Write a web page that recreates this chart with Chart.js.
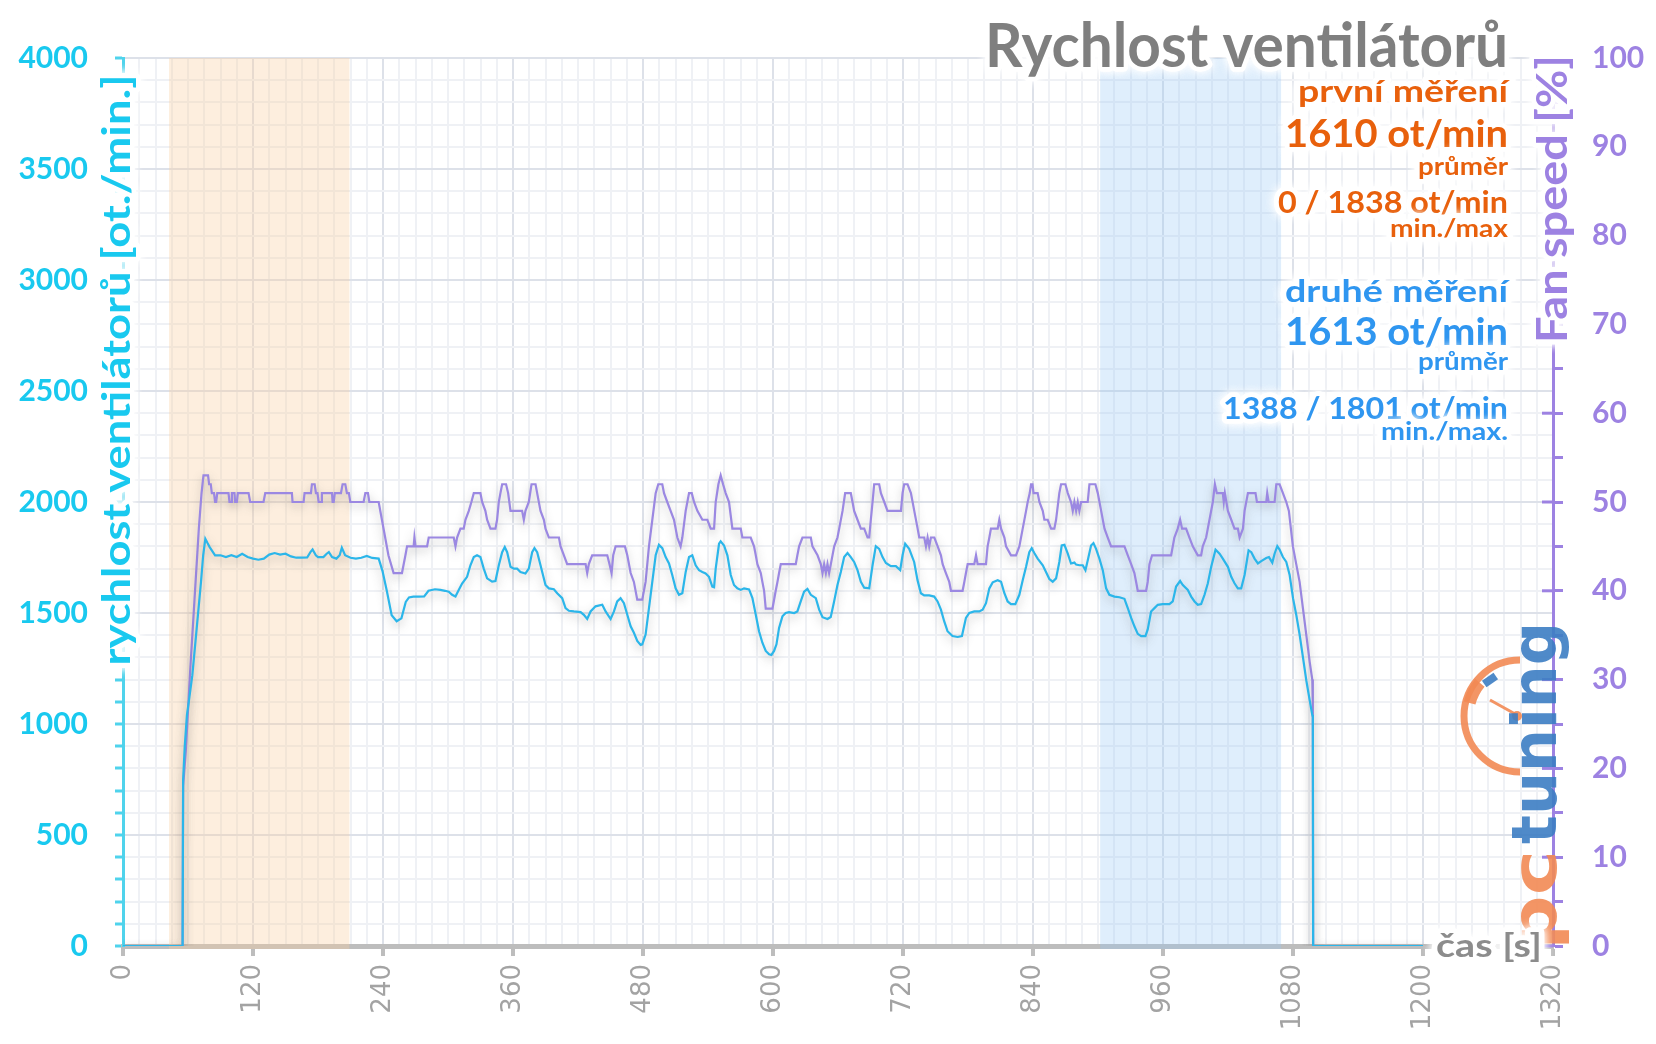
<!DOCTYPE html>
<html>
<head>
<meta charset="utf-8">
<title>Rychlost ventilátorů</title>
<script src="https://cdn.jsdelivr.net/npm/chart.js@4.4.1/dist/chart.umd.min.js"></script>
<style>
  html, body { margin: 0; padding: 0; background: #fff; }
  canvas { display: block; }
</style>
</head>
<body>
<canvas id="chart" width="1656" height="1044"></canvas>
<script>
// fan rpm over time [s, ot./min]
const rpmSamples = [
  [0,0],[55,0],[55.5,750],[57,900],[59,1040],[61,1110],[64,1220],[68,1430],[72,1640],[74,1760],[76,1834],[78,1815],
  [80,1797],[85,1760],[90,1760],[95,1752],[100,1760],[105,1752],[110,1767],[115,1752],[120,1745],[125,1740],
  [130,1745],[135,1763],[140,1770],[145,1763],[150,1767],[155,1755],[160,1749],[165,1749],[170,1750],[173,1774],
  [175,1786],[178,1760],[180,1752],[185,1752],[188,1767],[190,1774],[193,1752],[197,1745],[200,1760],[202,1794],
  [205,1760],[210,1749],[215,1745],[220,1749],[225,1757],[230,1748],[236,1745],[239.5,1690],[243.5,1600],
  [248,1490],[252.6,1463],[257,1476],[261,1550],[264,1570],[268,1574],[273,1574],[278,1575],[282,1600],[288,1607],
  [293,1604],[297.3,1600],[300.7,1596],[303.8,1582],[306.9,1574],[309.9,1604],[313,1633],[317.6,1663],[320.7,1715],
  [323.8,1752],[326.8,1760],[329.9,1752],[333,1700],[336.1,1656],[340.7,1641],[343.8,1644],[346.9,1715],[350,1774],
  [352.4,1797],[354.6,1774],[357.7,1708],[360.7,1700],[363.8,1700],[366.9,1685],[371.5,1678],[374.6,1700],
  [377.7,1774],[379.8,1792],[382.3,1774],[385.4,1715],[390,1626],[393.1,1611],[397.7,1607],[400.8,1589],
  [405.4,1567],[408.5,1522],[411.6,1510],[416.2,1507],[422.4,1504],[425.4,1492],[428.5,1473],[431.6,1507],
  [436.2,1530],[442.4,1537],[445.5,1507],[450.1,1473],[453.2,1507],[456.2,1552],[459.3,1567],[462.4,1544],
  [465.5,1492],[468.6,1440],[471.6,1411],[474.7,1374],[477.8,1356],[479.3,1359],[482.4,1403],[485.5,1522],
  [488.6,1641],[491.7,1760],[494.7,1807],[497.8,1792],[500.9,1752],[504,1723],[507,1671],[510.1,1611],[513.2,1582],
  [516.3,1589],[519.4,1685],[522.5,1752],[525.5,1760],[528.6,1715],[531.7,1693],[534.8,1685],[537.8,1678],
  [540.9,1663],[544,1619],[545.6,1616],[547.1,1700],[550.2,1812],[551.7,1823],[554.8,1804],[557.9,1760],[561,1671],
  [564,1626],[567.1,1611],[570.2,1604],[573.3,1611],[577.9,1606],[581,1567],[584.1,1492],[587.1,1418],[590.2,1366],
  [593.3,1329],[596.4,1314],[598.5,1311],[601,1329],[603.2,1359],[605.6,1433],[608.7,1485],[611.7,1500],
  [614.8,1504],[619.5,1500],[622.5,1507],[625.6,1552],[628.7,1596],[631.8,1608],[634.9,1582],[639.5,1567],
  [642.6,1515],[645.7,1481],[650.3,1473],[653.3,1482],[656.4,1552],[659.5,1626],[662.6,1685],[665.7,1752],
  [668.8,1770],[671.8,1752],[674.9,1730],[678,1693],[681.1,1641],[684.2,1614],[688.8,1611],[691.9,1715],
  [694.9,1801],[698,1789],[701.1,1752],[704.2,1725],[708.8,1711],[713.4,1711],[717.4,1693],[719.6,1760],[722,1812],
  [725.7,1789],[730.3,1730],[733.4,1648],[736.5,1589],[739.5,1579],[744.2,1579],[748.8,1574],[751.9,1552],
  [755,1515],[758,1463],[761.1,1418],[765.7,1396],[770.4,1392],[774.4,1396],[778.1,1478],[781.2,1500],
  [785.8,1507],[790.4,1507],[793.5,1515],[796.6,1544],[799.7,1611],[802.8,1638],[807.4,1648],[810.5,1641],
  [813.6,1589],[816.6,1552],[819.7,1540],[823.7,1540],[827.4,1582],[830.5,1648],[833.6,1708],[836.6,1774],
  [838.8,1792],[841.2,1770],[844.3,1745],[849,1715],[852,1685],[855.1,1653],[858.2,1641],[861.3,1656],[864.3,1730],
  [866.5,1804],[869,1807],[872.1,1767],[875.1,1723],[878.2,1727],[879.8,1718],[882.8,1715],[885.9,1715],
  [888.4,1693],[890.5,1737],[893.6,1804],[895.8,1815],[898.2,1789],[901.3,1745],[904.4,1693],[907.5,1611],
  [910.5,1582],[915.2,1574],[919.8,1571],[924.4,1564],[927.5,1522],[930.6,1478],[933.6,1440],[936.7,1406],
  [939.8,1396],[943.8,1396],[945.9,1426],[949,1507],[952.1,1522],[955.2,1537],[959.8,1540],[965.9,1540],
  [969,1552],[972.1,1619],[975.8,1644],[978.3,1626],[982.9,1604],[986,1574],[989.1,1552],[992.1,1537],
  [995.2,1540],[998.3,1582],[1001.4,1634],[1004.5,1708],[1008.5,1785],[1012.2,1767],[1015.2,1745],[1019.9,1708],
  [1023,1663],[1026,1634],[1029.1,1611],[1032.2,1611],[1035.3,1671],[1039,1782],[1041.5,1774],[1044.5,1745],
  [1047.6,1723],[1050.7,1734],[1055.3,1748],[1057.8,1752],[1060.9,1727],[1063,1767],[1065.5,1801],[1067.6,1786],
  [1070.7,1752],[1073.8,1730],[1076.9,1671],[1080,1567],[1083,1492],[1086.1,1403],[1089.2,1300],[1092.3,1196],
  [1095.4,1107],[1097.8,1040],[1098.3,1030],[1098.6,0],[1200,0]
];

// fan duty over time [s, %]
const pctSamples = [
  [0,0],[55,0],[55.5,18],[58,22],[62,31],[66,39],[70,47],[72.5,51],[74.3,53],[78.5,53],[79.5,52],[81,52],[82,51],
  [84,51],[85,50],[86,50],[87,51],[97.4,51],[98.3,50],[99.9,50],[100.5,51],[102.9,51],[103.5,50],[105.1,50],
  [106,51],[115.9,51],[117.4,50],[129.7,50],[131.3,51],[155.9,51],[156.5,50],[166.7,50],[167.6,51],[173.5,51],
  [174.4,52],[176.9,52],[178.1,51],[179.5,51],[180.6,50],[183,50],[183.6,51],[192.9,51],[193.5,50],[194.5,50],
  [195.5,51],[201.2,51],[202.7,52],[205.2,52],[206.7,51],[208.5,51],[209.8,50],[222.1,50],[223.7,51],[226.1,51],
  [227.4,50],[236,50],[239,48],[242,46],[245,44],[249.8,42],[257.5,42],[260.7,44],[262.2,45],[268.3,45],[269,46],
  [270,45],[280.7,45],[282.2,46],[305.3,46],[306.9,45],[308.4,46],[311.5,47],[314.5,47],[316.1,48],[319.2,49],
  [321.6,50],[323.8,51],[329.9,51],[331.5,50],[334.5,49],[336.1,48],[339.2,47],[343.8,47],[345.3,48],[346.9,50],
  [348.4,51],[350,52],[353.6,52],[355.5,51],[357.7,49],[368.4,49],[370,48],[371.5,49],[374.6,50],[377.1,52],
  [380.8,52],[382.3,51],[385.4,49],[388.5,48],[390,47],[393.1,46],[402.4,46],[403.9,45],[407,44],[410,43],[427,43],
  [428.5,42],[430,43],[433.1,44],[447,44],[449.1,43],[451,42],[452.5,44],[454.7,45],[463.3,45],[465.5,44],
  [468.6,42],[471.6,41],[474.7,39],[479.3,39],[482.4,41],[485.5,45],[488.6,48],[491.7,51],[494.1,52],[497.8,52],
  [499.4,51],[502.4,50],[505.5,49],[508.6,48],[511.7,46],[514.7,45],[516.3,46],[519.4,49],[522.5,51],[525,51],
  [527.1,50],[530.2,49],[534.8,48],[539.4,48],[542.5,47],[545.6,47],[547.1,50],[549.6,52],[551.7,53],[553.9,52],
  [556.3,51],[559.4,50],[562.5,47],[565.6,47],[568.7,47],[570.2,47],[571.7,46],[579.4,46],[582.5,45],[584.1,44],
  [585.6,43],[588.7,42],[590.2,41],[591.8,40],[593.3,38],[599.5,38],[601,39],[602.5,40],[604.1,41],[605.6,42],
  [607.2,43],[621,43],[622.5,44],[624.1,45],[627.2,46],[634.9,46],[636.4,45],[641.1,44],[644.1,43],[645.7,42],
  [647.2,43],[648.8,42],[650.3,43],[651.8,42],[653.4,43],[656.5,45],[659.5,46],[661.1,47],[664.2,49],[666.6,51],
  [671.8,51],[673.4,50],[674.9,49],[678,48],[681.1,47],[684.2,47],[687.3,46],[688.8,46],[690.3,48],[691.9,50],
  [693.4,52],[698,52],[699.6,51],[702.7,50],[705.7,49],[718.1,49],[719.6,51],[721.1,52],[724.2,52],[727.3,51],
  [730.4,49],[733.5,47],[735,46],[739.6,46],[741.2,45],[742.7,46],[744.2,45],[745.8,46],[748.9,46],[752,45],
  [755,44],[756.6,43],[759.6,42],[762.7,41],[764.3,40],[775,40],[776.6,41],[778.1,42],[779.7,43],[785.8,43],
  [787.4,44],[788.9,43],[796.6,43],[798.1,45],[799.7,46],[801.2,47],[807.4,47],[808.9,48],[810.5,47],[813.6,46],
  [815.1,45],[819.7,44],[824.3,44],[827.4,45],[830.5,47],[833.6,49],[835.1,50],[837,51],[838.2,52],[839.5,52],
  [840.5,51],[844.3,51],[845.9,50],[849,49],[850.5,48],[853.6,48],[856.7,47],[859.7,47],[861.3,48],[864.3,51],
  [865.9,52],[869.9,52],[872.1,51],[875.1,50],[876.7,49],[878.2,50],[879.8,49],[881.3,50],[882.8,49],[884.4,50],
  [890.5,50],[892.1,52],[897.6,52],[899.8,51],[902.9,49],[906,47],[909,46],[912.1,45],[924.4,45],[927.5,44],
  [930.6,43],[933.6,42],[935.2,41],[936.7,40],[944.4,40],[945.9,41],[947.5,43],[949.9,44],[967.5,44],[970.5,46],
  [973.6,47],[975.8,48],[977.6,47],[981.3,47],[984.4,46],[987.5,45],[992.1,44],[995.2,44],[996.7,45],[999.8,46],
  [1002.9,48],[1006,50],[1007.9,52],[1009.7,51],[1015.2,51],[1016.1,50],[1017.1,51],[1019.9,49],[1023,48],
  [1026,47],[1029.1,47],[1030.7,46],[1033.8,47],[1035.3,49],[1038.4,51],[1045.4,51],[1046.7,50],[1055.3,50],
  [1056.2,51],[1057.5,50],[1063,50],[1064.6,52],[1067.6,52],[1070.7,51],[1073.8,50],[1076.2,49],[1079.9,45],
  [1083,43],[1086.1,41],[1089.2,38],[1092.3,35],[1095.4,32],[1097.8,30],[1098.3,27],[1098.6,0],[1200,0]
];

const xTicks = [0, 120, 240, 360, 480, 600, 720, 840, 960, 1080, 1200, 1320];
const rpmTicks = [0, 500, 1000, 1500, 2000, 2500, 3000, 3500, 4000];
const pctTicks = [0, 10, 20, 30, 40, 50, 60, 70, 80, 90, 100];
const bandFirst = [42.5, 209];   // první měření
const bandSecond = [902, 1069];  // druhé měření

const cyan = '#19c9ef';
const purple = '#9d82e2';
const orange = '#e8600c';
const blue = '#2f96f0';
const gridMajor = '#dde1e9';
const gridMinor = '#eff1f5';

function range(a, b, step) {
  const out = [];
  for (let v = a; v <= b + 1e-9; v += step) out.push(v);
  return out;
}

// text with a white glow, stretched to the width it has in the original
function haloText(ctx, text, x, y, font, color, align, width, rot) {
  ctx.save();
  ctx.translate(x, y);
  if (rot) ctx.rotate(rot);
  ctx.font = font;
  ctx.textAlign = align;
  ctx.textBaseline = 'alphabetic';
  if (width) ctx.scale(width / ctx.measureText(text).width, 1);
  ctx.lineJoin = 'round';
  ctx.strokeStyle = 'rgba(255,255,255,0.95)';
  ctx.shadowColor = '#fff';
  ctx.shadowBlur = 10;
  ctx.lineWidth = 9;
  ctx.strokeText(text, 0, 0);
  ctx.strokeText(text, 0, 0);
  ctx.shadowBlur = 0;
  ctx.fillStyle = color;
  ctx.fillText(text, 0, 0);
  ctx.restore();
}

const bands = {
  id: 'bands',
  beforeDatasetsDraw(chart) {
    const { ctx, chartArea, scales: { x } } = chart;
    ctx.save();
    ctx.fillStyle = 'rgba(250,205,160,0.35)';
    ctx.fillRect(x.getPixelForValue(bandFirst[0]), chartArea.top,
      x.getPixelForValue(bandFirst[1]) - x.getPixelForValue(bandFirst[0]), chartArea.bottom - chartArea.top + 3);
    ctx.fillStyle = 'rgba(150,200,245,0.3)';
    ctx.fillRect(x.getPixelForValue(bandSecond[0]), chartArea.top,
      x.getPixelForValue(bandSecond[1]) - x.getPixelForValue(bandSecond[0]), chartArea.bottom - chartArea.top + 3);
    ctx.restore();
  }
};

const lineShadow = {
  id: 'lineShadow',
  beforeDatasetDraw(chart) {
    const ctx = chart.ctx;
    ctx.save();
    ctx.shadowColor = 'rgba(70,70,70,0.35)';
    ctx.shadowBlur = 10;
    ctx.shadowOffsetY = 4;
  },
  afterDatasetDraw(chart) {
    chart.ctx.restore();
  }
};

const axisMarks = {
  id: 'axisMarks',
  afterDatasetsDraw(chart) {
    const { ctx, scales: { y2 } } = chart;
    ctx.save();
    ctx.strokeStyle = purple;
    ctx.lineWidth = 3;
    pctTicks.forEach(v => {
      const py = y2.getPixelForValue(v);
      ctx.beginPath();
      ctx.moveTo(y2.left - 11, py);
      ctx.lineTo(y2.left, py);
      ctx.stroke();
    });
    ctx.restore();
  }
};

const logo = {
  id: 'logo',
  afterDatasetsDraw(chart) {
    const ctx = chart.ctx;
    ctx.save();
    ctx.globalAlpha = 0.9;
    // gauge
    ctx.strokeStyle = '#f28a54';
    ctx.lineWidth = 7;
    ctx.beginPath();
    ctx.arc(1520, 716, 56, Math.PI / 2, Math.PI * 1.5);
    ctx.stroke();
    ctx.lineWidth = 12;
    ctx.beginPath();
    ctx.arc(1520, 716, 52, Math.PI * 1.08, Math.PI * 1.22);
    ctx.stroke();
    ctx.lineWidth = 3;
    ctx.beginPath();
    ctx.moveTo(1490, 700);
    ctx.lineTo(1517, 715);
    ctx.stroke();
    ctx.fillStyle = '#f28a54';
    ctx.beginPath();
    ctx.arc(1517, 716, 5, 0, Math.PI * 2);
    ctx.fill();
    ctx.fillStyle = '#3c7dc3';
    ctx.save();
    ctx.translate(1490, 680);
    ctx.rotate(-0.6);
    ctx.fillRect(-7, -4, 14, 8);
    ctx.restore();
    // wordmark
    ctx.translate(1556, 950);
    ctx.rotate(-Math.PI / 2);
    ctx.font = 'bold 62px "DejaVu Sans"';
    ctx.textAlign = 'left';
    ctx.save();
    ctx.scale(100 / ctx.measureText('pc').width, 1);
    ctx.fillStyle = '#f28a54';
    ctx.fillText('pc', 0, 0);
    ctx.restore();
    ctx.translate(106, 0);
    ctx.scale(222 / ctx.measureText('tuning').width, 1);
    ctx.fillStyle = '#3c7dc3';
    ctx.fillText('tuning', 0, 0);
    ctx.restore();
  }
};

const texts = {
  id: 'texts',
  afterDraw(chart) {
    const ctx = chart.ctx;
    const R = 1508;
    haloText(ctx, 'Rychlost ventilátorů', R, 67, 'bold 62px Lato', '#7f7f7f', 'right', 523);
    haloText(ctx, 'první měření', R, 102, 'bold 30px Lato', orange, 'right', 210);
    haloText(ctx, '1610 ot/min', R, 147, 'bold 38px Lato', orange, 'right', 223);
    haloText(ctx, 'průměr', R, 175, 'bold 25px Lato', orange, 'right', 90);
    haloText(ctx, '0 / 1838 ot/min', R, 213, 'bold 30px Lato', orange, 'right', 230);
    haloText(ctx, 'min./max', R, 237, 'bold 25px Lato', orange, 'right', 118);
    haloText(ctx, 'druhé měření', R, 302, 'bold 30px Lato', blue, 'right', 223);
    haloText(ctx, '1613 ot/min', R, 345, 'bold 38px Lato', blue, 'right', 223);
    haloText(ctx, 'průměr', R, 370, 'bold 25px Lato', blue, 'right', 90);
    haloText(ctx, '1388 / 1801 ot/min', R, 419, 'bold 30px Lato', blue, 'right', 285);
    haloText(ctx, 'min./max.', R, 440, 'bold 25px Lato', blue, 'right', 127);
    // axis titles
    haloText(ctx, 'rychlost ventilátorů [ot./min.]', 130, 370, 'bold 39px Lato', cyan, 'center', 591, -Math.PI / 2);
    haloText(ctx, 'Fan speed [%]', 1567, 199, 'bold 42px Lato', purple, 'center', 288, -Math.PI / 2);
    haloText(ctx, 'čas [s]', 1542, 957, 'bold 32px Lato', '#8c8c8c', 'right', 106);
  }
};

new Chart(document.getElementById('chart'), {
  type: 'line',
  data: {
    datasets: [{
      label: 'rychlost ventilátorů',
      data: rpmSamples.map(p => ({ x: p[0], y: p[1] })),
      yAxisID: 'y',
      borderColor: '#2bb6ea',
      borderWidth: 2.2,
      pointRadius: 0,
      tension: 0
    }, {
      label: 'Fan speed',
      data: pctSamples.map(p => ({ x: p[0], y: p[1] })),
      yAxisID: 'y2',
      borderColor: '#9b88e2',
      borderWidth: 2.2,
      pointRadius: 0,
      tension: 0
    }]
  },
  options: {
    responsive: false,
    animation: false,
    layout: { padding: { top: 58, left: 0, right: 0, bottom: 0 } },
    plugins: { legend: { display: false }, tooltip: { enabled: false } },
    scales: {
      x: {
        type: 'linear',
        min: 0,
        max: 1320,
        afterBuildTicks: s => { s.ticks = range(0, 1320, 15).map(v => ({ value: v })); },
        afterFit: s => { s.height = 98; },
        ticks: {
          autoSkip: false,
          minRotation: 90,
          maxRotation: 90,
          padding: 8,
          color: '#a3a3a3',
          font: { family: 'DejaVu Sans', size: 26 },
          callback: v => xTicks.includes(v) ? String(v) : ''
        },
        grid: {
          color: c => xTicks.includes(c.tick.value) ? gridMajor : gridMinor,
          lineWidth: 2,
          tickLength: 10,
          tickWidth: 4,
          tickColor: c => xTicks.includes(c.tick.value) ? '#bdbdbd' : 'rgba(0,0,0,0)'
        },
        border: { color: '#bdbdbd', width: 5 }
      },
      y: {
        position: 'left',
        min: 0,
        max: 4000,
        afterBuildTicks: s => { s.ticks = range(0, 4000, 100).map(v => ({ value: v })); },
        afterFit: s => { s.width = 123; },
        ticks: {
          autoSkip: false,
          padding: 27,
          color: cyan,
          font: { family: 'Lato', weight: 'bold', size: 30 },
          callback: v => rpmTicks.includes(v) ? String(v) : ''
        },
        grid: {
          color: c => rpmTicks.includes(c.tick.value) ? gridMajor : gridMinor,
          lineWidth: 2,
          tickLength: 8,
          tickWidth: 3,
          tickColor: '#4fd3ec'
        },
        border: { color: '#4fd3ec', width: 3 }
      },
      y2: {
        position: 'right',
        min: 0,
        max: 100,
        afterBuildTicks: s => { s.ticks = range(0, 100, 5).map(v => ({ value: v })); },
        afterFit: s => { s.width = 103; },
        ticks: {
          autoSkip: false,
          padding: 29,
          color: purple,
          font: { family: 'Lato', weight: 'bold', size: 30 },
          callback: v => pctTicks.includes(v) ? String(v) : ''
        },
        grid: {
          drawOnChartArea: false,
          tickLength: 10,
          tickWidth: 3,
          tickColor: purple
        },
        border: { color: purple, width: 3 }
      }
    }
  },
  plugins: [bands, lineShadow, axisMarks, logo, texts]
});
</script>
</body>
</html>
